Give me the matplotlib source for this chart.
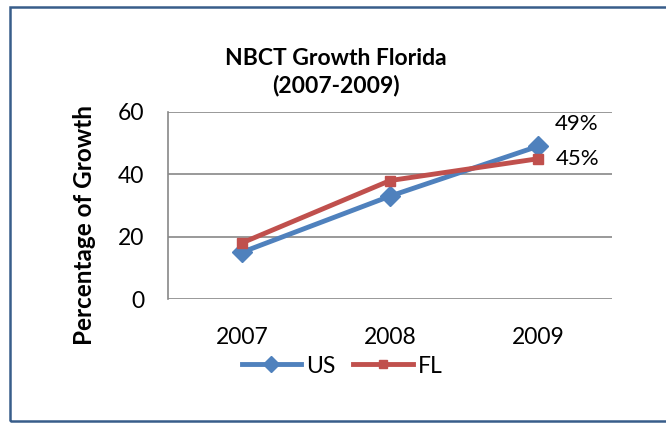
import matplotlib
matplotlib.use("Agg")
import matplotlib.pyplot as plt
from matplotlib.patches import Rectangle

years = ["2007", "2008", "2009"]
us = [15, 33, 49]
fl = [18, 38, 45]
yticks = [0, 20, 40, 60]
labels = {"US": "49%", "FL": "45%"}

plt.rcParams['font.family'] = ['Lato', 'DejaVu Sans']

fig = plt.figure(figsize=(6.66, 4.23), dpi=100)
fig.patch.set_facecolor("white")
fig.patches.append(Rectangle((10/666, 1-421/423), 1.0, (421-7)/423, transform=fig.transFigure,
                             fill=False, edgecolor="#385D8A", linewidth=1.8, zorder=0))

ax = fig.add_axes([168/666, 1-299/423, (612-168)/666, (299-112)/423])
x = list(range(len(years)))
ax.plot(x, us, color="#4F81BD", linewidth=3.5, marker="D", markersize=10, label="US", zorder=3)
ax.plot(x, fl, color="#C0504D", linewidth=3.5, marker="s", markersize=7, label="FL", zorder=4)

ax.set_xlim(-0.5, 2.5)
ax.set_ylim(0, 60)
ax.set_yticks(yticks)
ax.set_xticks(x)
ax.set_xticklabels(years)
ax.tick_params(axis="both", length=0, labelsize=16.5, colors="black")
ax.tick_params(axis="x", pad=20)
ax.tick_params(axis="y", pad=17)
ax.grid(axis="y", color="#888888", linewidth=1.2)
ax.set_axisbelow(True)
for s in ["top", "right", "bottom"]:
    ax.spines[s].set_visible(False)
ax.spines["left"].set_color("#888888")
ax.spines["left"].set_linewidth(1.2)

ax.annotate(labels["US"], (x[2], us[2]), xytext=(12, 16), textcoords="offset points",
            fontsize=16, va="center", ha="left")
ax.annotate(labels["FL"], (x[2], fl[2]), xytext=(13, 0), textcoords="offset points",
            fontsize=16, va="center", ha="left")

fig.text(336/666, 1-72/423, "NBCT Growth Florida\n(2007-2009)", ha="center", va="center",
         fontsize=16.5, fontweight="bold", linespacing=1.35)
fig.text(85/666, 1-225/423, "Percentage of Growth", rotation=90, ha="center", va="center",
         fontsize=17.5, fontweight="bold")

fig.legend(loc="center", bbox_to_anchor=(342/666, 1-366/423), ncol=2, frameon=False,
           fontsize=16.5, handlelength=2.6, columnspacing=0.8, handletextpad=0.2,
           markerscale=0.8)

fig.savefig("out.png", dpi=100)
